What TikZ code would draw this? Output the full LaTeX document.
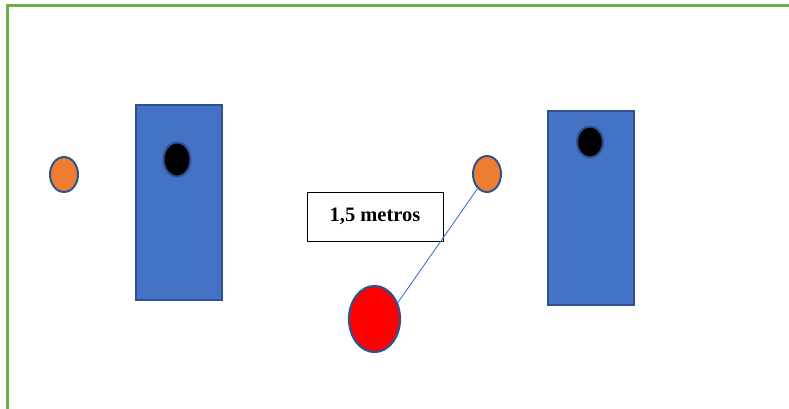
\documentclass[tikz,border=0pt]{standalone}
\usepackage{fontspec}
\setmainfont{Liberation Serif}
\usetikzlibrary{shapes.geometric}
\definecolor{frameGreen}{HTML}{70AD47}
\definecolor{boxBlue}{HTML}{4472C4}
\definecolor{edgeBlue}{HTML}{2F528F}
\definecolor{ballOrange}{HTML}{ED7D31}
\tikzset{
  board/.style={draw=edgeBlue, fill=boxBlue, line width=2pt, inner sep=0pt},
  hole/.style={ellipse, draw=edgeBlue, fill=black, line width=2pt, inner sep=0pt},
  ball/.style={ellipse, draw=edgeBlue, fill=ballOrange, line width=2pt, inner sep=0pt},
  player/.style={ellipse, draw=edgeBlue, fill=red, line width=2.2pt, inner sep=0pt},
  labelbox/.style={draw=black, fill=white, line width=0.9pt, inner sep=0pt, font=\bfseries\fontsize{20.5}{24}\selectfont},
  distline/.style={draw=boxBlue, line width=0.9pt}
}
\begin{document}
\begin{tikzpicture}[x=1pt,y=-1pt]
\useasboundingbox (0,0) rectangle (789,409);
% frame
\draw[frameGreen, line width=2.7pt] (7.5,409) -- (7.5,5.3) -- (789,5.3);
% boards
\node[board, minimum width=86pt, minimum height=195pt] (leftboard) at (179,202.5) {};
\node[board, minimum width=86pt, minimum height=194pt] (rightboard) at (591,208) {};
% holes
\node[hole, minimum width=27pt, minimum height=34pt] (lefthole) at (177,159.5) {};
\node[hole, minimum width=26pt, minimum height=31pt] (righthole) at (590,142) {};
% balls
\node[ball, minimum width=28pt, minimum height=35pt] (leftball) at (64,174.5) {};
\node[ball, minimum width=28pt, minimum height=36pt] (rightball) at (487,174) {};
% player
\node[player, minimum width=51pt, minimum height=66pt] (redball) at (374.5,319) {};
% label
\node[labelbox, minimum width=136pt, minimum height=49pt] (label) at (375,216.5) {1,5 metros};
% distance line
\draw[distline] (redball.35) -- (rightball.237);
\end{tikzpicture}
\end{document}
